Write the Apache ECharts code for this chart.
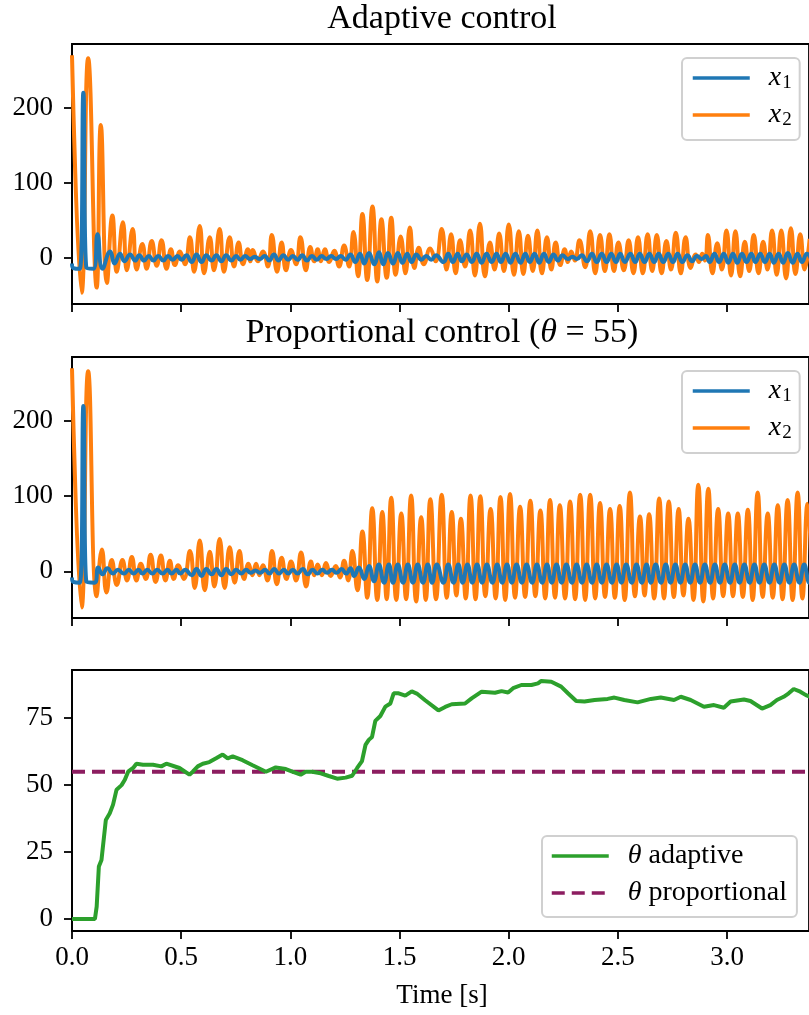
<!DOCTYPE html>
<html><head><meta charset="utf-8">
<script src="https://cdn.jsdelivr.net/npm/echarts@6/dist/echarts.min.js"></script>
<style>html,body{margin:0;padding:0;background:#fff}#c{width:809px;height:1015px}</style>
</head><body><div id="c"></div>
<script>
// ---- tick values ----
const xTicks = [0, 0.5, 1.0, 1.5, 2.0, 2.5, 3.0];
const xStateTicks = [0, 100, 200];
const thetaTicks = [0, 25, 50, 75];

// ---- Adaptive control: x2 (extrema) ----
const adaptX2Time = [0.000,0.044,0.074,0.113,0.132,0.160,0.185,0.205,0.233,0.251,0.278,0.296,0.322,0.342,0.365,0.388,0.410,0.433,0.453,0.471,0.494,0.517,0.540,0.559,0.585,0.605,0.631,0.650,0.676,0.696,0.722,0.742,0.763,0.783,0.805,0.817,0.828,0.851,0.874,0.897,0.915,0.939,0.960,0.980,1.003,1.026,1.046,1.071,1.091,1.109,1.125,1.140,1.158,1.178,1.201,1.223,1.246,1.269,1.289,1.310,1.330,1.352,1.376,1.398,1.417,1.441,1.462,1.482,1.505,1.527,1.547,1.568,1.588,1.611,1.640,1.665,1.693,1.715,1.736,1.757,1.777,1.800,1.823,1.845,1.868,1.891,1.914,1.935,1.956,1.978,2.000,2.024,2.046,2.067,2.088,2.110,2.131,2.152,2.175,2.195,2.215,2.236,2.256,2.271,2.286,2.303,2.324,2.350,2.373,2.396,2.418,2.440,2.461,2.482,2.502,2.527,2.549,2.571,2.592,2.614,2.636,2.657,2.678,2.700,2.722,2.743,2.765,2.788,2.810,2.833,2.856,2.871,2.886,2.899,2.912,2.933,2.955,2.976,2.997,3.018,3.038,3.060,3.081,3.101,3.122,3.144,3.165,3.185,3.206,3.227,3.248,3.270,3.292,3.313,3.335,3.355,3.378];
const adaptX2 = [270,-47,266,-40,177,-34,56,-19,47,-17,38,-16,18,-15,22,-11,23,-15,11,-10,8,-9,27,-19,42,-21,27,-17,38,-19,27,-12,20,-9,11,-5,10,-5,8,-12,30,-19,20,-17,10,-9,27,-17,14,-5,11,-5,11,-6,9,-12,16,-12,34,-25,58,-30,68,-32,51,-27,53,-23,28,-21,40,-14,13,-9,12,-5,38,-16,31,-21,23,-12,36,-24,45,-25,20,-16,32,-18,44,-23,35,-22,29,-18,36,-21,27,-16,20,-10,11,-6,8,-4,23,-13,35,-21,30,-18,31,-18,20,-17,23,-21,27,-21,31,-18,30,-21,22,-16,33,-21,27,-14,4,-6,5,-4,30,-21,19,-16,36,-24,35,-25,21,-18,30,-21,21,-16,36,-23,36,-28,39,-22,31,-16,25];

// ---- Adaptive control: x1 ----
const adaptX1Time = [0.000,0.006,0.036,0.052,0.066,0.098,0.117,0.140,0.175,0.195,0.220,0.240,0.266,0.289,0.308,0.330,0.352,0.373,0.395,0.418,0.440,0.461,0.483,0.502,0.524,0.548,0.570,0.593,0.615,0.639,0.661,0.684,0.706,0.730,0.752,0.771,0.793,0.815,0.837,0.860,0.882,0.903,0.925,0.946,0.968,0.990,1.011,1.033,1.054,1.076,1.099,1.121,1.143,1.165,1.187,1.209,1.231,1.253,1.275,1.297,1.319,1.338,1.360,1.384,1.406,1.425,1.447,1.470,1.492,1.513,1.535,1.555,1.577,1.600,1.622,1.645,1.667,1.701,1.723,1.744,1.766,1.785,1.807,1.831,1.853,1.876,1.898,1.922,1.944,1.964,1.986,2.008,2.030,2.054,2.076,2.096,2.118,2.139,2.161,2.183,2.205,2.225,2.247,2.270,2.292,2.312,2.334,2.358,2.381,2.403,2.426,2.448,2.469,2.491,2.510,2.532,2.557,2.579,2.600,2.622,2.644,2.666,2.686,2.708,2.730,2.752,2.773,2.795,2.818,2.840,2.862,2.884,2.903,2.920,2.942,2.963,2.985,3.005,3.027,3.046,3.068,3.089,3.111,3.130,3.152,3.173,3.195,3.214,3.236,3.256,3.278,3.300,3.322,3.343,3.365,3.388];
const adaptX1 = [-8,-14,-15,220,-14,-15,31,-15,8,-8,5,-5,4,-4,3,-4,2,-4,2,-4,2,-3,2,-3,3,-6,4,-6,3,-4,3,-5,3,-4,2,-3,2,-2,1,-2,2,-4,4,-4,3,-3,2,-3,3,-4,2,-3,2,-2,2,-2,2,-3,4,-6,5,-8,6,-9,7,-9,6,-8,6,-7,5,-6,4,-3,2,-3,3,-6,5,-6,5,-5,4,-6,5,-7,5,-6,5,-6,5,-7,5,-7,5,-6,5,-7,5,-6,4,-4,3,-2,1,-2,3,-5,5,-6,5,-6,5,-6,5,-6,5,-6,5,-6,5,-6,5,-6,5,-6,5,-6,3,-5,2,-2,2,-6,5,-6,5,-7,5,-7,5,-6,5,-6,5,-6,5,-7,5,-7,6,-7,5,-6,5,-5];

// ---- Proportional control: x2 ----
const propX2Time = [0.000,0.044,0.074,0.113,0.137,0.158,0.182,0.205,0.231,0.252,0.274,0.295,0.315,0.338,0.360,0.383,0.407,0.428,0.448,0.466,0.486,0.512,0.540,0.562,0.585,0.608,0.631,0.652,0.676,0.699,0.722,0.745,0.767,0.788,0.808,0.826,0.843,0.858,0.874,0.895,0.916,0.938,0.960,0.982,1.003,1.026,1.049,1.072,1.094,1.110,1.125,1.144,1.163,1.185,1.208,1.227,1.246,1.265,1.284,1.307,1.330,1.352,1.375,1.398,1.421,1.441,1.462,1.485,1.508,1.530,1.553,1.576,1.599,1.620,1.641,1.667,1.693,1.716,1.739,1.760,1.781,1.803,1.825,1.848,1.870,1.893,1.917,1.940,1.962,1.984,2.006,2.029,2.052,2.075,2.099,2.122,2.145,2.167,2.189,2.212,2.234,2.258,2.281,2.304,2.327,2.350,2.373,2.396,2.418,2.441,2.464,2.486,2.508,2.531,2.555,2.578,2.601,2.622,2.643,2.666,2.689,2.711,2.733,2.756,2.778,2.800,2.823,2.846,2.868,2.891,2.914,2.936,2.959,2.982,3.005,3.027,3.049,3.072,3.095,3.117,3.140,3.163,3.186,3.209,3.232,3.254,3.277,3.300,3.323,3.345,3.368,3.390];
const propX2 = [270,-48,266,-33,29,-28,15,-18,15,-12,19,-12,10,-10,22,-14,21,-12,14,-10,8,-10,27,-22,41,-25,26,-20,43,-22,32,-15,27,-10,10,-5,10,-5,8,-12,27,-17,18,-10,13,-12,25,-20,13,-5,9,-5,11,-6,7,-8,14,-12,27,-25,53,-35,84,-38,79,-37,98,-38,77,-37,101,-40,72,-38,96,-37,102,-35,79,-32,70,-36,101,-37,100,-33,83,-36,99,-38,103,-35,86,-34,94,-33,81,-36,95,-35,88,-36,93,-37,102,-38,102,-36,91,-34,83,-35,87,-38,105,-33,73,-32,76,-36,97,-36,93,-34,83,-32,70,-38,115,-40,110,-36,83,-33,77,-33,77,-34,82,-38,105,-34,77,-35,88,-37,95,-38,105,-36,90,-35];

// ---- Proportional control: x1 ----
const propX1Time = [0.000,0.006,0.036,0.052,0.066,0.104,0.120,0.140,0.162,0.188,0.210,0.238,0.260,0.282,0.304,0.323,0.345,0.368,0.390,0.415,0.437,0.456,0.478,0.496,0.518,0.548,0.570,0.593,0.615,0.639,0.661,0.684,0.706,0.730,0.752,0.775,0.797,0.818,0.840,0.862,0.884,0.904,0.926,0.948,0.970,0.990,1.011,1.033,1.057,1.079,1.102,1.124,1.146,1.168,1.190,1.212,1.234,1.256,1.275,1.292,1.314,1.338,1.360,1.383,1.405,1.429,1.451,1.470,1.492,1.516,1.538,1.561,1.583,1.607,1.629,1.649,1.671,1.701,1.723,1.747,1.769,1.789,1.811,1.833,1.855,1.878,1.900,1.925,1.947,1.970,1.992,2.014,2.036,2.060,2.082,2.107,2.129,2.153,2.175,2.197,2.219,2.242,2.264,2.289,2.311,2.335,2.357,2.381,2.403,2.426,2.448,2.472,2.494,2.516,2.538,2.563,2.585,2.609,2.631,2.651,2.673,2.697,2.719,2.741,2.763,2.786,2.808,2.831,2.853,2.876,2.898,2.922,2.944,2.967,2.989,3.013,3.035,3.057,3.079,3.103,3.125,3.148,3.170,3.194,3.216,3.240,3.262,3.285,3.307,3.331,3.353,3.376,3.398];
const propX1 = [-8,-14,-15,220,-14,-15,5,-4,4,-3,2,-3,2,-3,2,-3,2,-3,2,-3,2,-3,2,-3,2,-5,3,-6,3,-4,3,-5,3,-4,2,-3,2,-2,1,-2,2,-3,3,-3,2,-3,2,-3,3,-4,2,-3,2,-2,2,-2,3,-3,4,-6,5,-10,7,-13,9,-15,9,-15,9,-15,9,-15,9,-15,9,-15,9,-15,9,-15,9,-15,9,-15,9,-15,9,-15,9,-15,9,-15,9,-15,9,-15,9,-15,9,-15,9,-15,9,-15,9,-15,9,-15,9,-15,9,-15,9,-15,9,-15,9,-15,9,-15,9,-15,9,-15,9,-15,9,-15,9,-15,9,-15,9,-15,9,-15,9,-15,9,-15,9,-15,9,-15,9,-15,9,-15,9,-15,9,-15,9];

// ---- theta ----
const thetaTime = [0,0.105,0.113,0.123,0.135,0.155,0.173,0.188,0.204,0.227,0.242,0.257,0.280,0.295,0.325,0.371,0.409,0.432,0.492,0.538,0.553,0.576,0.599,0.629,0.660,0.690,0.713,0.736,0.781,0.827,0.888,0.933,0.979,1.009,1.047,1.070,1.100,1.139,1.176,1.214,1.253,1.283,1.306,1.328,1.344,1.359,1.374,1.389,1.412,1.435,1.458,1.473,1.496,1.526,1.556,1.579,1.617,1.678,1.709,1.739,1.800,1.830,1.876,1.937,1.967,1.997,2.020,2.058,2.104,2.134,2.149,2.195,2.240,2.271,2.309,2.347,2.393,2.453,2.484,2.529,2.590,2.651,2.696,2.757,2.788,2.833,2.894,2.940,2.985,3.016,3.077,3.107,3.160,3.198,3.228,3.259,3.282,3.305,3.335,3.361,3.380];
const thetaAdaptive = [0,0,4.6,19.6,22,37,39.5,42.7,48.3,50,52,55,56.4,58,57.6,57.6,57,58,56.4,53.9,55,57,58,58.6,60,61.4,60,60.7,59.3,57.4,55,56.6,56,55,53.9,55,55,54.4,53.4,52.4,52.8,53.5,56.4,59,65,66.9,68,74,75.8,79.3,80.5,84.3,84.3,83.4,85,84.2,81.7,77.9,79.2,80.2,80.5,82.4,84.9,84.5,85.1,84.6,86.2,87.4,87.4,88,88.9,88.6,86.8,84.3,81.4,81.2,81.8,82.2,82.7,81.8,80.9,82.2,82.7,81.8,83,81.8,79.3,79.9,78.9,81.2,82,81.4,78.6,79.9,81.8,83,84.3,85.9,84.9,83.6,83];
const thetaPropTime = [0, 3.4];
const thetaProp = [55, 55];

// ---- build ----
function pairs(ts, vs) {
  const n = Math.min(ts.length, vs.length), out = [];
  for (let i = 0; i < n; i++) out.push([ts[i], vs[i]]);
  return out;
}
const F = '"Liberation Serif", "Times New Roman", serif';
const BLUE = '#1f77b4', ORANGE = '#ff7f0e', GREEN = '#2ca02c', PURPLE = '#8c1d60';
const LW = 4, SPINE = 1.8;
const XMAX = 3.375;

const grids = [
  { left: 72, top: 44, width: 740, height: 260 },
  { left: 72, top: 357, width: 740, height: 261 },
  { left: 72, top: 670, width: 740, height: 261 }
].map(g => Object.assign(g, { show: true, borderColor: '#000', borderWidth: SPINE, backgroundColor: 'transparent' }));

const xAxes = [0, 1, 2].map(i => ({
  type: 'value', gridIndex: i, min: 0, max: XMAX,
  axisLine: { show: true, onZero: false, lineStyle: { color: '#000', width: SPINE } },
  axisTick: { show: true, customValues: xTicks, length: 8, lineStyle: { color: '#000', width: SPINE } },
  axisLabel: { show: i === 2, customValues: xTicks, formatter: v => v.toFixed(1), fontFamily: F, fontSize: 27, color: '#000', margin: 13 },
  splitLine: { show: false }
}));
const yRanges = [[-62, 285], [-62, 285], [-4.5, 93]];
const yTickSets = [xStateTicks, xStateTicks, thetaTicks];
const yAxes = [0, 1, 2].map(i => ({
  type: 'value', gridIndex: i, min: yRanges[i][0], max: yRanges[i][1],
  axisLine: { show: true, onZero: false, lineStyle: { color: '#000', width: SPINE } },
  axisTick: { show: true, customValues: yTickSets[i], length: 8, lineStyle: { color: '#000', width: SPINE } },
  axisLabel: { show: true, customValues: yTickSets[i], fontFamily: F, fontSize: 27, color: '#000', margin: 19 },
  splitLine: { show: false }
}));

function lineSeries(name, idx, ts, vs, color, extra) {
  return Object.assign({
    type: 'line', name: name, xAxisIndex: idx, yAxisIndex: idx,
    data: pairs(ts, vs), symbol: 'none', showSymbol: false, clip: true,
    lineStyle: { color: color, width: LW }, itemStyle: { color: color },
    emphasis: { disabled: true }
  }, extra || {});
}

const richBase = {
  i: { fontFamily: F, fontSize: 28, fontStyle: 'italic', color: '#000', lineHeight: 30 },
  s: { fontFamily: F, fontSize: 19, color: '#000', lineHeight: 20, padding: [10, 0, 0, 1] },
  r: { fontFamily: F, fontSize: 28, color: '#000', lineHeight: 30 }
};
function legendFmt(name) {
  if (name === 'x1') return '{i|x}{s|1}';
  if (name === 'x2') return '{i|x}{s|2}';
  if (name === 'θ adaptive') return '{i|θ}{r| adaptive}';
  if (name === 'θ proportional') return '{i|θ}{r| proportional}';
  return name;
}
function legendBox(left, top, names, pad, gap) {
  return {
    show: true, orient: 'vertical', left: left, top: top, data: names,
    itemWidth: 57, itemHeight: 10, itemGap: gap, padding: pad,
    itemStyle: { opacity: 0 },
    lineStyle: { width: 3.5 },
    backgroundColor: 'rgba(255,255,255,0.85)', borderColor: '#d0d0d0', borderWidth: 2, borderRadius: 5,
    selectedMode: false, formatter: legendFmt,
    textStyle: { fontFamily: F, fontSize: 28, color: '#000', lineHeight: 30, padding: [0, 0, 0, 14], rich: richBase }
  };
}

const option = {
  animation: false,
  backgroundColor: '#ffffff',
  grid: grids,
  xAxis: xAxes,
  yAxis: yAxes,
  legend: [
    legendBox(682, 58, ['x1', 'x2'], [5, 8, 10, 9], 7),
    legendBox(682, 371, ['x1', 'x2'], [5, 8, 10, 9], 7),
    legendBox(542, 836, ['θ adaptive', 'θ proportional'], [5, 10, 9, 8], 7)
  ],
  series: [
    lineSeries('x2', 0, adaptX2Time, adaptX2, ORANGE, { smooth: 0.5, z: 2 }),
    lineSeries('x1', 0, adaptX1Time, adaptX1, BLUE, { smooth: 0.5, z: 3 }),
    lineSeries('x2', 1, propX2Time, propX2, ORANGE, { smooth: 0.5, z: 2 }),
    lineSeries('x1', 1, propX1Time, propX1, BLUE, { smooth: 0.5, z: 3 }),
    lineSeries('θ adaptive', 2, thetaTime, thetaAdaptive, GREEN, { z: 3 }),
    lineSeries('θ proportional', 2, thetaPropTime, thetaProp, PURPLE, { z: 2, lineStyle: { color: PURPLE, width: LW, type: [13, 7] } })
  ],
  graphic: [
    { type: 'text', x: 442, y: 19, style: { text: 'Adaptive control', font: '34px ' + F, fill: '#000', align: 'center', verticalAlign: 'middle', textAlign: 'center', textVerticalAlign: 'middle' } },
    { type: 'text', x: 442, y: 333, style: { text: '{r|Proportional control (}{i|θ}{r| = 55)}', fill: '#000', align: 'center', verticalAlign: 'middle', textAlign: 'center', textVerticalAlign: 'middle',
      rich: { r: { fontFamily: F, fontSize: 34, fill: '#000', color: '#000' }, i: { fontFamily: F, fontSize: 34, fontStyle: 'italic', fill: '#000', color: '#000' } } } },
    { type: 'text', x: 442, y: 996, style: { text: 'Time [s]', font: '27px ' + F, fill: '#000', align: 'center', verticalAlign: 'middle', textAlign: 'center', textVerticalAlign: 'middle' } }
  ]
};
const chart = echarts.init(document.getElementById('c'), null, { renderer: 'canvas' });
chart.setOption(option);
</script></body></html>
